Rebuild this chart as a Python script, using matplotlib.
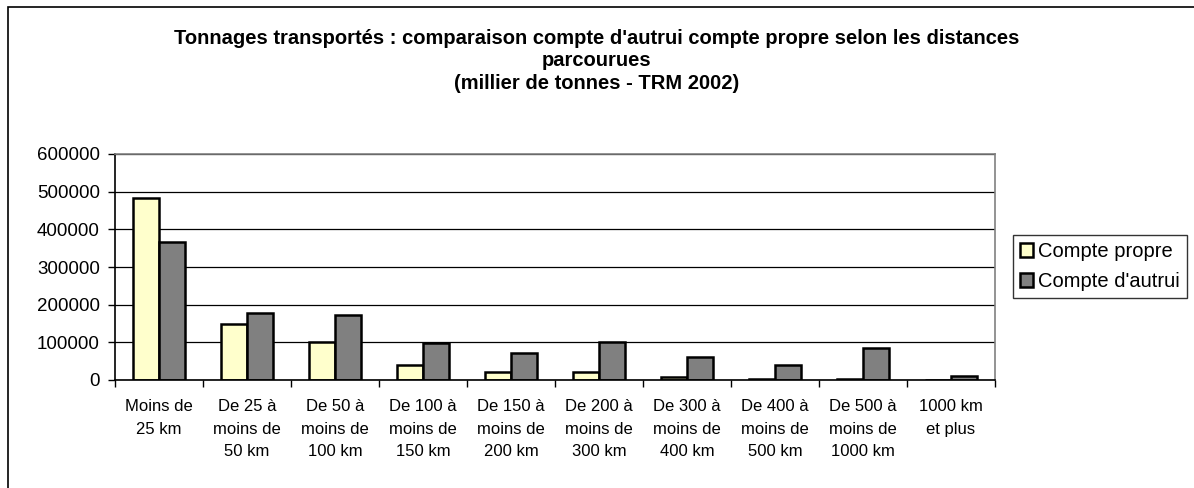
import matplotlib
matplotlib.use("Agg")
import matplotlib.pyplot as plt
import numpy as np
from matplotlib.patches import Rectangle

plt.rcParams['font.family'] = ['Liberation Sans', 'DejaVu Sans']

# distance classes
categories = ["Moins de\n25 km", "De 25 à\nmoins de\n50 km", "De 50 à\nmoins de\n100 km",
              "De 100 à\nmoins de\n150 km", "De 150 à\nmoins de\n200 km", "De 200 à\nmoins de\n300 km",
              "De 300 à\nmoins de\n400 km", "De 400 à\nmoins de\n500 km", "De 500 à\nmoins de\n1000 km",
              "1000 km\net plus"]
# milliers de tonnes
compte_propre = [483000, 150000, 102000, 40500, 22000, 22000, 8000, 3500, 3500, 1000]
compte_autrui = [367000, 177000, 172000, 97000, 72000, 100500, 62000, 40000, 85000, 11500]
yticks = [0, 100000, 200000, 300000, 400000, 500000, 600000]

fig = plt.figure(figsize=(11.94, 4.88), dpi=100)

# chart border (only top and left visible)
fig.patches.append(Rectangle((8 / 1194, -0.05), 1.1, 1 - 7 / 488 + 0.05,
                             transform=fig.transFigure, fill=False, edgecolor='black', lw=1.2))

ax = fig.add_axes([115 / 1194, 1 - 380 / 488, 880 / 1194, 226 / 488])

x = np.arange(len(categories))
w = 0.295
ax.bar(x - w / 2, compte_propre, w, color='#ffffcc', edgecolor='black', lw=1.8, label='Compte propre')
ax.bar(x + w / 2, compte_autrui, w, color='#808080', edgecolor='black', lw=1.8, label="Compte d'autrui")

ax.set_xlim(-0.5, len(categories) - 0.5)
ax.set_ylim(0, 600000)
ax.set_yticks(yticks)
ax.set_yticklabels([str(v) for v in yticks], fontsize=13.5)
ax.yaxis.grid(True, color='black', lw=0.9)
ax.set_axisbelow(True)

ax.set_xticks(np.arange(len(categories) + 1) - 0.5)
ax.set_xticklabels([])
ax.set_xticks(x, minor=True)
ax.set_xticklabels(categories, minor=True, fontsize=12, linespacing=1.6)
ax.tick_params(axis='x', which='minor', length=0, pad=14)
ax.tick_params(axis='x', which='major', length=5, width=1)
ax.tick_params(axis='y', length=5, width=1, pad=6)

for s in ['top', 'right']:
    ax.spines[s].set_color('#808080')
    ax.spines[s].set_linewidth(1.2)
for s in ['left', 'bottom']:
    ax.spines[s].set_color('black')
    ax.spines[s].set_linewidth(1.2)

fig.text(0.5, 1 - 29 / 488,
         "Tonnages transportés : comparaison compte d'autrui compte propre selon les distances\nparcourues\n(millier de tonnes - TRM 2002)",
         ha='center', va='top', fontsize=14.5, fontweight='bold', linespacing=1.22)

leg = ax.legend(loc='upper left', bbox_to_anchor=(1013 / 1194, 1 - 235 / 488),
                bbox_transform=fig.transFigure, fontsize=14.5, frameon=True, fancybox=False,
                handlelength=0.65, handleheight=0.65, handletextpad=0.25, borderpad=0.35,
                labelspacing=0.55, borderaxespad=0)
leg.get_frame().set_edgecolor('black')
leg.get_frame().set_linewidth(1)

fig.savefig('out.png', dpi=100)
